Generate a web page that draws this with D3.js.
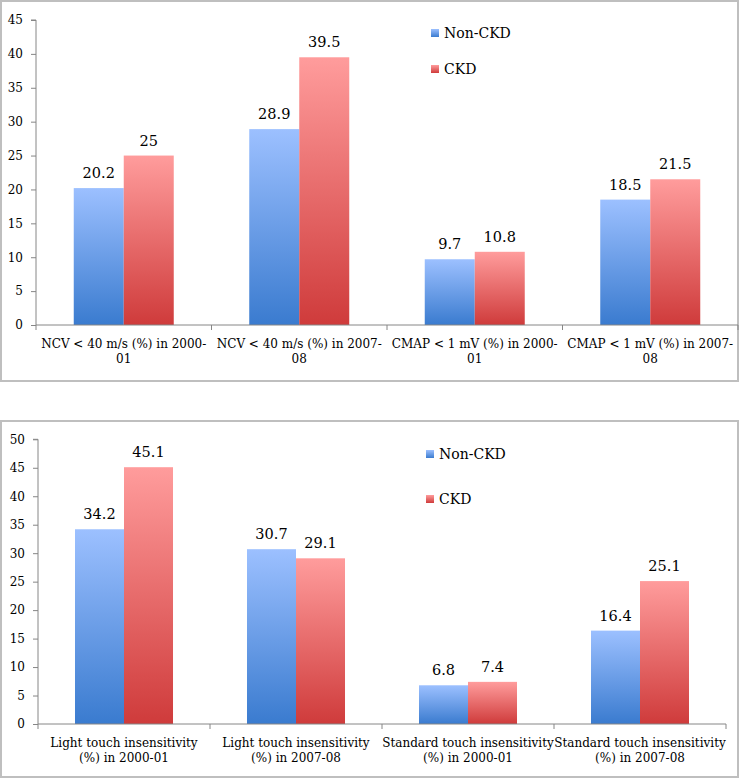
<!DOCTYPE html>
<html><head><meta charset="utf-8">
<script src="https://cdn.jsdelivr.net/npm/d3@7"></script>
<style>body{margin:0;background:#fff}svg{display:block}svg text{font-family:"DejaVu Serif",serif}</style>
</head><body>
<svg id="c" width="740" height="778"></svg>
<script>
const series = ["Non-CKD", "CKD"];
const categories1 = [["NCV < 40 m/s (%) in 2000-", "01"], ["NCV < 40 m/s (%) in 2007-", "08"], ["CMAP < 1 mV (%) in 2000-", "01"], ["CMAP < 1 mV (%) in 2007-", "08"]];
const nonCkd1 = [20.2, 28.9, 9.7, 18.5];
const ckd1 = [25, 39.5, 10.8, 21.5];
const ticks1 = [0, 5, 10, 15, 20, 25, 30, 35, 40, 45];
const categories2 = [["Light touch insensitivity", "(%) in 2000-01"], ["Light touch insensitivity", "(%) in 2007-08"], ["Standard touch insensitivity", "(%) in 2000-01"], ["Standard touch insensitivity", "(%) in 2007-08"]];
const nonCkd2 = [34.2, 30.7, 6.8, 16.4];
const ckd2 = [45.1, 29.1, 7.4, 25.1];
const ticks2 = [0, 5, 10, 15, 20, 25, 30, 35, 40, 45, 50];

const svg = d3.select("#c");
const defs = svg.append("defs");
const grads = [["gBlue", "#9CC0FF", "#3A7BCF"], ["gRed", "#FF9C9C", "#CF3B3B"]];
grads.forEach(([id, top, bot]) => {
  const g = defs.append("linearGradient").attr("id", id).attr("x1", 0).attr("y1", 0).attr("x2", 0).attr("y2", 1);
  g.append("stop").attr("offset", "0%").attr("stop-color", top);
  g.append("stop").attr("offset", "100%").attr("stop-color", bot);
});
const fills = ["url(#gBlue)", "url(#gRed)"];

function drawChart(cfg) {
  const g = svg.append("g");
  g.append("rect").attr("x", cfg.box[0]).attr("y", cfg.box[1]).attr("width", cfg.box[2]).attr("height", cfg.box[3])
    .attr("fill", "#fff").attr("stroke", "#BFBFBF").attr("stroke-width", 2);
  const y = d3.scaleLinear().domain([0, cfg.ticks[cfg.ticks.length - 1]]).range([cfg.y0, cfg.yTop]);
  const keys = cfg.categories.map((d, i) => i);
  const x0 = d3.scaleBand().domain(keys).range([cfg.xL, cfg.xR]).paddingInner(0).paddingOuter(0);
  const x1 = d3.scaleBand().domain(series).range([0, x0.bandwidth()]).paddingInner(0).paddingOuter(0.755);
  const axisColor = "#868686";

  const ya = d3.axisLeft(y).tickValues(cfg.ticks).tickSize(5).tickPadding(8).tickFormat(d3.format("d"));
  const yg = g.append("g").attr("transform", `translate(${cfg.xL},0)`).call(ya);
  yg.attr("font-family", null);
  yg.select(".domain").attr("stroke", axisColor).attr("d", `M-5,${y(cfg.ticks[cfg.ticks.length-1])}H0V${cfg.y0}`);
  yg.selectAll(".tick line").attr("stroke", axisColor);
  yg.selectAll(".tick text").style("font-size", "12px").attr("fill", "#000");

  const data = [cfg.a, cfg.b];
  keys.forEach(i => {
    series.forEach((s, j) => {
      const v = data[j][i];
      g.append("rect").attr("x", x0(i) + x1(s)).attr("y", y(v)).attr("width", x1.bandwidth())
        .attr("height", cfg.y0 - y(v)).attr("fill", fills[j]);
      g.append("text").attr("x", x0(i) + x1(s) + x1.bandwidth() / 2).attr("y", y(v) - 10)
        .attr("text-anchor", "middle").style("font-size", "14.5px").attr("fill", "#000").text(v);
    });
  });

  const xg = g.append("g");
  xg.append("line").attr("x1", cfg.xL).attr("x2", cfg.xR).attr("y1", cfg.y0).attr("y2", cfg.y0).attr("stroke", axisColor);
  const bounds = keys.map(i => x0(i)).concat([cfg.xR]);
  bounds.forEach(b => xg.append("line").attr("x1", b).attr("x2", b).attr("y1", cfg.y0).attr("y2", cfg.y0 + 5).attr("stroke", axisColor));
  keys.forEach(i => {
    const t = xg.append("text").attr("text-anchor", "middle").style("font-size", "12px").attr("fill", "#000");
    cfg.categories[i].forEach((line, k) => {
      t.append("tspan").attr("x", x0(i) + x0.bandwidth() / 2).attr("y", cfg.labY + k * 15).text(line);
    });
  });

  series.forEach((s, j) => {
    const ly = cfg.leg[1] + j * cfg.legGap;
    g.append("rect").attr("x", cfg.leg[0]).attr("y", ly).attr("width", 8).attr("height", 8).attr("fill", fills[j]);
    g.append("text").attr("x", cfg.leg[0] + 13).attr("y", ly + 8.5).style("font-size", "14px").attr("fill", "#000").text(s);
  });
}

drawChart({box: [1, 1, 737, 380], xL: 36, xR: 738, y0: 325, yTop: 20, ticks: ticks1, categories: categories1, a: nonCkd1, b: ckd1, labY: 348, leg: [431, 29], legGap: 36});
drawChart({box: [1, 421, 737, 356], xL: 38, xR: 726, y0: 724, yTop: 439.3, ticks: ticks2, categories: categories2, a: nonCkd2, b: ckd2, labY: 746.5, leg: [426, 450], legGap: 45});
</script>
</body></html>
